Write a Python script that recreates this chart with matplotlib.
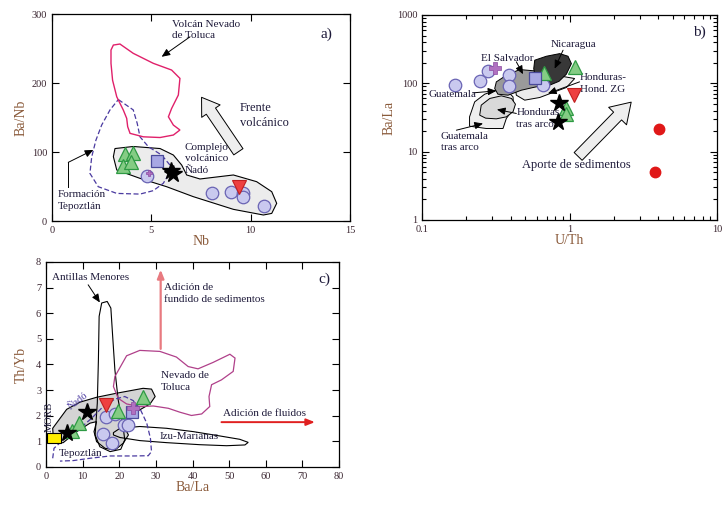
import matplotlib.pyplot as plt
from matplotlib.patches import Polygon, Rectangle, FancyArrowPatch
from matplotlib.ticker import FixedLocator, NullFormatter, LogLocator

plt.rcParams["font.family"] = ["Liberation Serif", "DejaVu Serif"]

LABEL_C = "#8a5a3a"
TICK_C = "#3a2530"
TEXT_C = "#1e1a3a"
LS = 1.4

# ---------------- panel a: Nb vs Ba/Nb ----------------
a_tri_nb = [3.67, 4.06, 3.56, 3.98]
a_tri_banb = [97, 99, 80, 85]
a_sq_nb = [5.3]
a_sq_banb = [86.5]
a_circ_nb = [4.77, 8.07, 9.01, 9.6, 9.63, 10.65]
a_circ_banb = [65.7, 40, 41.6, 41, 34.8, 22]
a_plus_nb = [4.9]
a_plus_banb = [70]
a_inv_nb = [9.43]
a_inv_banb = [49.7]
a_star_nb = [6.0, 6.1]
a_star_banb = [72, 68]

a_nado = [(3.17, 105), (4.09, 108), (5.44, 105), (6.11, 95.6), (6.53, 81), (6.78, 66.7),
          (7.45, 60.9), (9.13, 66.7), (10.3, 57), (11.06, 42.5), (11.31, 25.6), (11.06, 11),
          (10.64, 8.7), (9.13, 16.9), (7.11, 35.3), (5.77, 49.7), (4.43, 61.8), (3.26, 73.9),
          (3.09, 93.2)]
a_tepoz = [(3.34, 176), (4.09, 161), (4.29, 141.5), (4.43, 122), (4.85, 107.7), (5.52, 95.6),
           (5.94, 81), (5.86, 66.7), (5.6, 54.6), (5.1, 44), (4.43, 39), (3.26, 40),
           (2.33, 49.7), (1.91, 69), (2.0, 93), (2.21, 117), (2.5, 139), (2.92, 161)]
a_toluca = [(3.09, 255), (3.42, 256.5), (4.09, 243), (5.1, 228.5), (6.02, 218.8), (6.44, 206.7),
            (6.36, 182.6), (6.02, 163), (5.86, 151), (6.11, 139), (6.44, 131.9), (6.11, 124.6),
            (5.44, 121), (4.6, 122), (3.93, 127), (3.81, 136.7), (3.76, 148.8), (3.59, 160.8),
            (3.26, 180), (3.05, 204), (2.97, 228.5), (2.97, 247.8)]

# ---------------- panel b: U/Th vs Ba/La ----------------
b_circ_uth = [0.167, 0.248, 0.28, 0.389, 0.387, 0.66]
b_circ_bala = [93.8, 107, 152, 131, 90.7, 96]
b_plus_uth = [0.311]
b_plus_bala = [170]
b_sq_uth = [0.58]
b_sq_bala = [120]
b_tri_uth = [0.67, 1.09, 0.952, 0.952]
b_tri_bala = [140, 172, 42.8, 35.4]
b_inv_uth = [1.07]
b_inv_bala = [67]
b_star_uth = [0.85, 0.83]
b_star_bala = [50.7, 26.7]
b_red_uth = [4.04, 3.8]
b_red_bala = [21.3, 5.08]

b_nicaragua = [(0.581, 218), (0.697, 249), (0.858, 272), (0.977, 249), (1.03, 194), (0.952, 136),
               (0.849, 107), (0.734, 94), (0.644, 90.7), (0.59, 113.6), (0.572, 164)]
b_honduras = [(0.436, 67), (0.425, 99.3), (0.566, 147), (0.814, 131), (1.084, 117.5),
              (0.952, 86.8), (0.793, 75), (0.628, 62), (0.497, 56.7)]
b_salvador = [(0.319, 105), (0.373, 131), (0.459, 159), (0.581, 152), (0.697, 117.5),
              (0.679, 94), (0.566, 86.8), (0.4716, 79.3), (0.383, 67), (0.327, 69.3), (0.311, 83.9)]
b_guat_ta = [(0.21, 32.3), (0.2275, 53.5), (0.266, 69.3), (0.319, 79.3), (0.373, 79.3),
             (0.414, 63.4), (0.418, 42.8), (0.373, 30.6), (0.354, 21.8), (0.273, 21.8), (0.21, 23.6)]
b_hond_ta = [(0.246, 34.2), (0.252, 47.9), (0.288, 60), (0.345, 65.6), (0.404, 60), (0.43, 49.5),
             (0.414, 38.3), (0.373, 32.3), (0.319, 30.2), (0.27, 30.9)]

# ---------------- panel c: Ba/La vs Th/Yb ----------------
c_star_bala = [5.6, 11.3]
c_star_thyb = [1.34, 2.14]
c_tri_bala = [7.0, 9.0, 19.7, 26.4]
c_tri_thyb = [1.41, 1.71, 2.2, 2.75]
c_inv_bala = [16.3]
c_inv_thyb = [2.4]
c_sq_bala = [23.5]
c_sq_thyb = [2.14]
c_plus_bala = [23.8]
c_plus_thyb = [2.29]
c_circ_bala = [16.5, 18.8, 21.3, 22.5, 15.6, 17.9]
c_circ_thyb = [1.94, 2.06, 1.62, 1.62, 1.28, 0.95]
c_morb = (0.2, 0.93, 3.9, 0.41)  # x, y, width, height

c_nado = [(1.82, 1.51), (5.64, 2.25), (9.27, 2.53), (13.8, 2.72), (19.3, 2.88), (26.5, 3.07),
          (28.8, 3.04), (29.8, 2.75), (28.4, 2.46), (25.6, 2.23), (22.5, 1.9), (21.3, 1.58),
          (22.5, 1.25), (21.1, 0.93), (18.8, 0.66), (16.1, 0.73), (13.8, 0.99), (13.1, 1.38),
          (13.8, 1.77), (12.0, 1.71), (8.4, 1.38), (4.7, 0.95), (2.9, 0.93), (2.0, 1.12)]
c_antillas = [(15.2, 6.40), (16.7, 6.46), (17.7, 6.20), (18.2, 5.09), (18.8, 3.79), (19.7, 2.62),
              (20.9, 1.71), (21.5, 1.06), (20.4, 0.69), (17.5, 0.6), (14.7, 0.79), (13.4, 1.25),
              (14.0, 2.49), (14.3, 4.18), (14.5, 5.88)]
c_toluca = [(18.8, 3.53), (22.0, 4.34), (25.6, 4.55), (31.1, 4.51), (35.6, 4.29), (38.8, 3.92),
            (41.5, 3.83), (45.6, 4.08), (50.2, 4.40), (51.6, 4.25), (51.1, 3.73), (47.9, 3.40),
            (45.2, 3.21), (44.5, 2.75), (44.7, 2.36), (42.5, 2.07), (39.7, 2.01), (36.5, 2.14),
            (33.4, 2.29), (29.3, 2.38), (25.6, 2.36), (22.0, 2.46), (19.7, 2.68), (18.4, 3.14)]
c_izu = [(18.4, 1.34), (20.2, 1.51), (25.6, 1.58), (32.9, 1.51), (40.2, 1.38), (47.5, 1.21),
         (52.9, 1.08), (55.2, 0.96), (54.3, 0.86), (49.3, 0.83), (42.0, 0.87), (32.9, 0.95),
         (25.6, 1.03), (20.2, 1.15), (18.4, 1.25)]
c_tepoz = [(1.82, 0.34), (2.18, 0.73), (5.18, 1.12), (9.27, 1.51), (12.45, 1.9), (15.6, 2.36),
           (18.8, 2.65), (21.5, 2.75), (23.8, 2.59), (25.8, 2.23), (27.5, 1.71), (28.5, 1.12),
           (28.8, 0.6), (27.9, 0.44), (23.8, 0.43), (17.5, 0.43), (12.0, 0.34), (7.45, 0.25),
           (3.8, 0.23), (1.82, 0.34)]

CIRC = dict(marker="o", ms=9, mfc="#c9c9ef", mec="#6a64b4", mew=0.9, ls="none", zorder=6)
TRI = dict(marker="^", ms=10, mfc="#84cc84", mec="#2e9a44", mew=0.9, ls="none", zorder=6)
INV = dict(marker="v", ms=10, mfc="#ee4040", mec="#c02020", mew=0.8, ls="none", zorder=6)
SQ = dict(marker="s", ms=9, mfc="#a8a8e4", mec="#4a4a9a", mew=0.9, ls="none", zorder=6)
PLUS = dict(marker="P", ms=8.5, mfc="#b070c0", mec="#8a4aa0", mew=0.5, ls="none", zorder=7)
STAR = dict(marker="*", ms=13, mfc="black", mec="black", ls="none", zorder=7)

ARR = dict(arrowstyle="-|>,head_length=0.5,head_width=0.22", color="black", lw=0.7,
           shrinkA=0, shrinkB=0)


def style_axes(ax):
    ax.tick_params(which="both", direction="in", top=True, right=True,
                   labelsize=7.5, labelcolor=TICK_C, length=5, width=0.8)
    ax.tick_params(which="minor", length=3)
    for s in ax.spines.values():
        s.set_linewidth(0.9)


def note(ax, xy, xytext):
    ax.annotate("", xy=xy, xytext=xytext, arrowprops=ARR, zorder=8)


fig = plt.figure(figsize=(7.26, 5.13), dpi=100)

# ---------- a ----------
ax = fig.add_axes([0.0716, 0.5692, 0.4105, 0.4035])
ax.set_xlim(0, 15)
ax.set_ylim(0, 300)
ax.xaxis.set_major_locator(FixedLocator([0, 5, 10, 15]))
ax.yaxis.set_major_locator(FixedLocator([0, 100, 200, 300]))
style_axes(ax)
ax.set_xlabel("Nb", fontsize=10, color=LABEL_C, labelpad=0)
ax.set_ylabel("Ba/Nb", fontsize=10, color=LABEL_C, labelpad=3)
ax.add_patch(Polygon(a_nado, closed=True, fc="#ececec", ec="black", lw=0.8, zorder=2))
ax.add_patch(Polygon(a_tepoz, closed=True, fill=False, ec="#4a3aa0", lw=0.9, ls=(0, (4, 2)), zorder=3))
ax.add_patch(Polygon(a_toluca, closed=True, fill=False, ec="#e0206a", lw=1.0, zorder=3))
ax.plot(a_circ_nb, a_circ_banb, **CIRC)
ax.plot(a_tri_nb, a_tri_banb, **TRI)
ax.plot(a_sq_nb, a_sq_banb, **SQ)
ax.plot(a_plus_nb, a_plus_banb, **dict(PLUS, ms=5))
ax.plot(a_inv_nb, a_inv_banb, **INV)
ax.plot(a_star_nb, a_star_banb, **STAR)
ax.add_patch(FancyArrowPatch((9.46, 97), (7.45, 182.6),
                             arrowstyle="simple,head_width=1.6,head_length=1.2,tail_width=0.8",
                             mutation_scale=10, fc="#eeeeee", ec="black", lw=0.7, zorder=4))
ax.text(6.04, 292, "Volcán Nevado\nde Toluca", fontsize=8, color=TEXT_C, va="top", linespacing=LS)
note(ax, (5.52, 238), (6.95, 267))
ax.text(13.5, 270, "a)", fontsize=11, color=TEXT_C, va="center")
ax.text(9.46, 153, "Frente\nvolcánico", fontsize=9, color=TEXT_C, va="center", linespacing=LS)
ax.text(6.69, 90, "Complejo\nvolcánico\nÑadó", fontsize=8, color=TEXT_C, va="center", linespacing=LS, zorder=9)
ax.text(0.27, 30, "Formación\nTepoztlán", fontsize=8, color=TEXT_C, va="center", linespacing=LS)
ax.plot([0.82, 0.82], [49.7, 85], color="black", lw=0.7)
note(ax, (2.08, 103), (0.82, 85))

# ---------- b ----------
ax = fig.add_axes([0.5813, 0.5712, 0.4063, 0.3996])
ax.set_xscale("log")
ax.set_yscale("log")
ax.set_xlim(0.1, 10)
ax.set_ylim(1, 1000)
ax.xaxis.set_major_locator(FixedLocator([0.1, 1, 10]))
ax.yaxis.set_major_locator(FixedLocator([1, 10, 100, 1000]))
ax.set_xticklabels(["0.1", "1", "10"])
ax.set_yticklabels(["1", "10", "100", "1000"])
ax.xaxis.set_minor_locator(LogLocator(subs=range(2, 10)))
ax.yaxis.set_minor_locator(LogLocator(subs=range(2, 10)))
ax.xaxis.set_minor_formatter(NullFormatter())
ax.yaxis.set_minor_formatter(NullFormatter())
style_axes(ax)
ax.set_xlabel("U/Th", fontsize=10, color=LABEL_C, labelpad=0)
ax.set_ylabel("Ba/La", fontsize=10, color=LABEL_C, labelpad=1)
ax.add_patch(Polygon(b_honduras, closed=True, fc="#ebebeb", ec="black", lw=0.7, zorder=2))
ax.add_patch(Polygon(b_salvador, closed=True, fc="#9a9a9a", ec="black", lw=0.7, zorder=3))
ax.add_patch(Polygon(b_nicaragua, closed=True, fc="#383838", ec="black", lw=0.7, zorder=4))
ax.add_patch(Polygon(b_guat_ta, closed=True, fc="#eeeeee", ec="black", lw=0.7, zorder=2))
ax.add_patch(Polygon(b_hond_ta, closed=True, fc="#d9d9d9", ec="black", lw=0.7, zorder=3))
ax.plot(b_circ_uth, b_circ_bala, **CIRC)
ax.plot(b_tri_uth, b_tri_bala, **TRI)
ax.plot(b_sq_uth, b_sq_bala, **SQ)
ax.plot(b_plus_uth, b_plus_bala, **PLUS)
ax.plot(b_inv_uth, b_inv_bala, **INV)
ax.plot(b_star_uth, b_star_bala, **STAR)
ax.plot(b_red_uth, b_red_bala, marker="o", ms=7.5, mfc="#e01818", mec="#e01818", ls="none", zorder=6)
ax.add_patch(FancyArrowPatch((1.11, 7.96), (2.70, 56.7),
                             arrowstyle="simple,head_width=1.8,head_length=1.4,tail_width=0.8",
                             mutation_scale=10, fc="#eeeeee", ec="black", lw=0.7, zorder=4))
ax.text(1.06, 368, "Nicaragua", fontsize=8, color=TEXT_C, ha="center", va="center")
note(ax, (0.793, 164), (0.904, 305))
ax.text(0.252, 230, "El Salvador", fontsize=8, color=TEXT_C, va="center")
note(ax, (0.484, 136), (0.436, 206))
ax.text(0.11, 68.6, "Guatemala", fontsize=8, color=TEXT_C, va="center", zorder=9)
note(ax, (0.319, 77.6), (0.222, 72.5))
ax.text(1.17, 100, "Honduras-\nHond. ZG", fontsize=8, color=TEXT_C, va="center", linespacing=LS)
note(ax, (0.714, 71), (1.17, 105))
ax.text(0.436, 30.2, "Honduras\ntras arco", fontsize=8, color=TEXT_C, va="center", linespacing=LS, zorder=9)
note(ax, (0.322, 41.4), (0.436, 36.2))
ax.text(0.134, 13.8, "Guatemala\ntras arco", fontsize=8, color=TEXT_C, va="center", linespacing=LS)
note(ax, (0.259, 25.8), (0.171, 20.6))
ax.text(0.476, 6.36, "Aporte de sedimentos", fontsize=9, color=TEXT_C, va="center")
ax.text(6.87, 552, "b)", fontsize=11, color=TEXT_C, va="center")

# ---------- c ----------
ax = fig.add_axes([0.0634, 0.0897, 0.4036, 0.3996])
ax.set_xlim(0, 80)
ax.set_ylim(0, 8)
ax.xaxis.set_major_locator(FixedLocator(range(0, 81, 10)))
ax.yaxis.set_major_locator(FixedLocator(range(0, 9)))
style_axes(ax)
ax.set_xlabel("Ba/La", fontsize=10, color=LABEL_C, labelpad=0)
ax.set_ylabel("Th/Yb", fontsize=10, color=LABEL_C, labelpad=6)
ax.add_patch(Polygon(c_nado, closed=True, fc="#d4d4d4", ec="black", lw=0.8, zorder=2))
ax.add_patch(Polygon(c_antillas, closed=True, fill=False, ec="black", lw=0.8, zorder=3))
ax.add_patch(Polygon(c_toluca, closed=True, fill=False, ec="#b0408a", lw=0.9, zorder=3))
ax.add_patch(Polygon(c_izu, closed=True, fill=False, ec="black", lw=0.8, zorder=3))
ax.add_patch(Polygon(c_tepoz, closed=False, fill=False, ec="#4a3aa0", lw=0.9, ls=(0, (4, 2)), zorder=3))
ax.add_patch(Rectangle(c_morb[:2], c_morb[2], c_morb[3], fc="#ffee00", ec="black", lw=0.8, zorder=5))
ax.plot(c_circ_bala, c_circ_thyb, **CIRC)
ax.plot(c_tri_bala, c_tri_thyb, **TRI)
ax.plot(c_sq_bala, c_sq_thyb, **SQ)
ax.plot(c_plus_bala, c_plus_thyb, **PLUS)
ax.plot(c_inv_bala, c_inv_thyb, **INV)
ax.plot(c_star_bala, c_star_thyb, **STAR)
ax.annotate("", xy=(31.3, 7.7), xytext=(31.3, 4.61),
            arrowprops=dict(arrowstyle="-|>,head_length=0.5,head_width=0.2", color="#e87a80", lw=1.6,
                            shrinkA=0, shrinkB=0))
ax.annotate("", xy=(73.4, 1.75), xytext=(47.9, 1.75),
            arrowprops=dict(arrowstyle="-|>,head_length=0.5,head_width=0.2", color="#e02020", lw=1.4,
                            shrinkA=0, shrinkB=0))
ax.text(32.3, 6.77, "Adición de\nfundido de sedimentos", fontsize=8, color=TEXT_C, va="center", linespacing=LS)
ax.text(48.2, 2.1, "Adición de fluidos", fontsize=8, color=TEXT_C, va="center")
ax.text(1.55, 7.41, "Antillas Menores", fontsize=8, color=TEXT_C, va="center")
note(ax, (14.7, 6.42), (11.5, 7.11))
ax.text(31.3, 3.34, "Nevado de\nToluca", fontsize=8, color=TEXT_C, va="center", linespacing=LS)
ax.text(30.9, 1.19, "Izu-Marianas", fontsize=8, color=TEXT_C, va="center")
ax.text(3.6, 0.53, "Tepoztlán", fontsize=8, color=TEXT_C, va="center")
ax.text(1.0, 1.95, "MORB", fontsize=7.5, color=TEXT_C, rotation=90, ha="center", va="center")
ax.text(8.8, 2.59, "Ñadó", fontsize=7.5, color="#4a3aa0", rotation=38, ha="center", va="center")
ax.text(74.3, 7.31, "c)", fontsize=11, color=TEXT_C, va="center")

fig.savefig("out.png", dpi=100)
